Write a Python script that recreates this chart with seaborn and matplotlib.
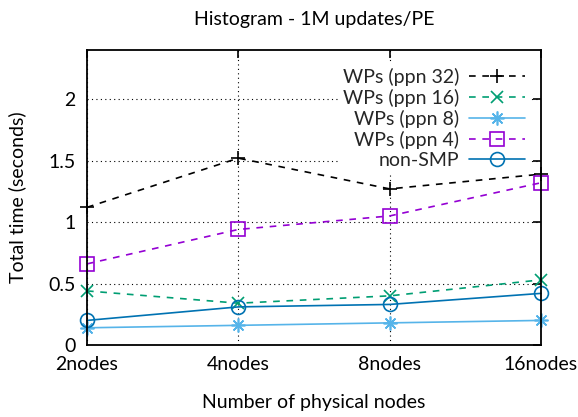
import matplotlib
matplotlib.use("Agg")
import matplotlib.pyplot as plt
import seaborn as sns
import pandas as pd

categories = ["2nodes", "4nodes", "8nodes", "16nodes"]
ppn32 = [1.12, 1.52, 1.27, 1.39]
ppn16 = [0.44, 0.34, 0.40, 0.53]
ppn8 = [0.14, 0.16, 0.18, 0.20]
ppn4 = [0.66, 0.94, 1.05, 1.32]
nonsmp = [0.20, 0.31, 0.33, 0.42]
yticks = [0, 0.5, 1, 1.5, 2]
ytick_labels = ["0", "0.5", "1", "1.5", "2"]

sns.set_theme(style="white")
plt.rcParams["font.family"] = ["Lato", "DejaVu Sans"]

fig = plt.figure(figsize=(5.78, 4.17), dpi=100)
ax = fig.add_axes([87 / 578, 1 - 345 / 417, (541 - 87) / 578, (345 - 50) / 417])

series = [
    ("WPs (ppn 32)", ppn32, "black", "+", (0, (4, 4)), 10, None),
    ("WPs (ppn 16)", ppn16, "#009e73", "x", (0, (4, 4)), 8.5, None),
    ("WPs (ppn 8)", ppn8, "#56b4e9", (8, 2, 0), "-", 10, None),
    ("WPs (ppn 4)", ppn4, "#9400d3", "s", (0, (4, 4)), 9.5, "none"),
    ("non-SMP", nonsmp, "#0072b2", "o", "-", 10, "none"),
]

for label, vals, color, marker, ls, ms, mfc in series:
    df = pd.DataFrame({"x": categories, "y": vals})
    sns.lineplot(data=df, x="x", y="y", ax=ax, color=color, marker=marker,
                 linestyle=ls, markersize=ms, linewidth=1.2, label=label,
                 markerfacecolor=mfc if mfc else color, markeredgecolor=color,
                 markeredgewidth=1.2, clip_on=False, zorder=3)

ax.set_xlim(0, 3)
ax.set_ylim(0, 2.4)
ax.set_yticks(yticks)
ax.set_yticklabels(ytick_labels)
ax.set_xticks(range(len(categories)))
ax.set_xticklabels(categories)
ax.tick_params(axis="both", direction="in", length=6, width=1.2, color="black",
               labelsize=14, top=True, right=True, pad=8, labelcolor="black")
ax.grid(True, linestyle=(0, (1, 3)), color="black", linewidth=0.8)
for s in ax.spines.values():
    s.set_color("black")
    s.set_linewidth(1.3)
    s.set_zorder(4)

ax.set_title("Histogram - 1M updates/PE", fontsize=14, pad=18, color="black")
ax.set_xlabel("Number of physical nodes", fontsize=14, labelpad=15, color="black")
ax.set_ylabel("Total time (seconds)", fontsize=14, labelpad=16, color="black")

leg = ax.legend(loc="upper right", bbox_to_anchor=(0.995, 0.985), markerfirst=False,
                frameon=True, facecolor="white", edgecolor="none", framealpha=1,
                fancybox=False, fontsize=14, handlelength=2.9, labelspacing=0.15,
                handletextpad=0.5, borderpad=0.2)
leg.set_zorder(2)

fig.savefig("out.png", dpi=100)
